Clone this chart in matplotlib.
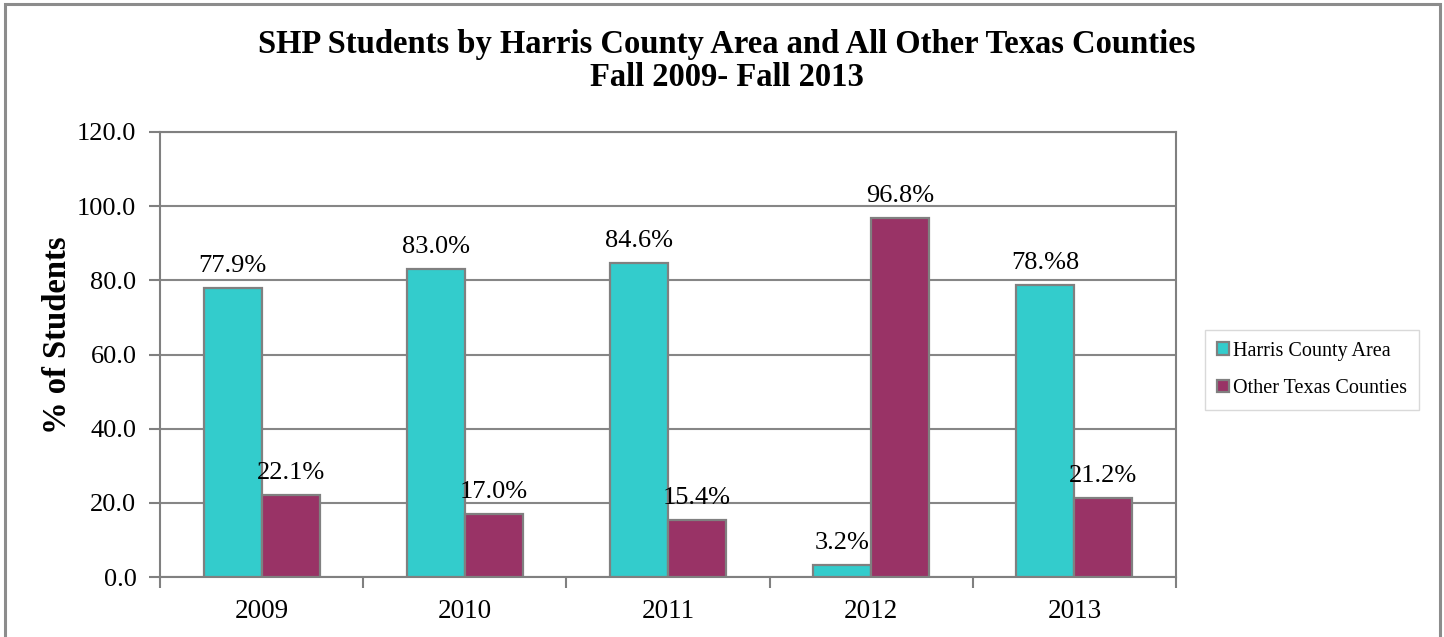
import matplotlib
matplotlib.use("Agg")
import matplotlib.pyplot as plt
import numpy as np
from matplotlib.patches import Rectangle

years = ["2009", "2010", "2011", "2012", "2013"]
harris = [77.9, 83.0, 84.6, 3.2, 78.8]
other = [22.1, 17.0, 15.4, 96.8, 21.2]
harris_labels = ["77.9%", "83.0%", "84.6%", "3.2%", "78.%8"]
other_labels = ["22.1%", "17.0%", "15.4%", "96.8%", "21.2%"]
series_names = ["Harris County Area", "Other Texas Counties"]
yticks = [0, 20, 40, 60, 80, 100, 120]

plt.rcParams["font.family"] = ["Liberation Serif", "DejaVu Serif"]

W, H = 1444, 637
fig = plt.figure(figsize=(W / 100, H / 100), dpi=100)

# outer chart frame
fig.patches.append(Rectangle((5 / W, -0.05), (1440 - 5) / W, 1.05 - 4 / H,
                             transform=fig.transFigure, fill=False,
                             edgecolor="#8c8c8c", linewidth=2.2, zorder=0))

ax = fig.add_axes([160 / W, 60 / H, (1176 - 160) / W, (577 - 132) / H])

x = np.arange(len(years))
bw = 0.285
edge = "#808080"
b1 = ax.bar(x - bw / 2, harris, bw, color="#33CCCC", edgecolor=edge,
            linewidth=1.6, label=series_names[0], zorder=3)
b2 = ax.bar(x + bw / 2, other, bw, color="#993366", edgecolor=edge,
            linewidth=1.6, label=series_names[1], zorder=3)

for bars, labels in ((b1, harris_labels), (b2, other_labels)):
    for rect, lab in zip(bars, labels):
        ax.annotate(lab, (rect.get_x() + rect.get_width() / 2, rect.get_height()),
                    xytext=(0, 8), textcoords="offset points", ha="center",
                    va="bottom", fontsize=19)

ax.set_xlim(-0.5, len(years) - 0.5)
ax.set_ylim(0, 120)
ax.set_yticks(yticks)
ax.set_yticklabels([f"{v:.1f}" for v in yticks], fontsize=19)
ax.set_xticks(x)
ax.set_xticklabels(years, fontsize=19.5)
ax.tick_params(axis="x", length=0, pad=16)
ax.set_xticks(np.arange(-0.5, len(years)), minor=True)
ax.tick_params(axis="x", which="minor", length=8, width=1.5, color=edge,
               direction="out")
ax.tick_params(axis="y", length=8, width=1.5, color=edge, direction="out",
               pad=9)
ax.yaxis.grid(True, color="#868686", linewidth=1.5, zorder=0)
ax.set_axisbelow(True)
for s in ax.spines.values():
    s.set_color(edge)
    s.set_linewidth(1.5)

ax.set_ylabel("% of Students", fontsize=23.5, fontweight="bold")
ax.yaxis.set_label_coords(73 / W, 1 - 335 / H, transform=fig.transFigure)

fig.text(727 / W, 1 - 61 / H,
         "SHP Students by Harris County Area and All Other Texas Counties\nFall 2009- Fall 2013",
         ha="center", va="center", fontsize=23.5, fontweight="bold",
         linespacing=1.05)

leg = ax.legend(loc="center left", bbox_to_anchor=(1205 / W, 1 - 370 / H),
                bbox_transform=fig.transFigure, fontsize=14.5, frameon=True,
                fancybox=False, edgecolor="#d0d0d0", handlelength=0.6,
                handleheight=0.6, handletextpad=0.2, labelspacing=0.9,
                borderpad=0.6, borderaxespad=0)
leg.get_frame().set_linewidth(1.0)

fig.savefig("out.png", dpi=100)
